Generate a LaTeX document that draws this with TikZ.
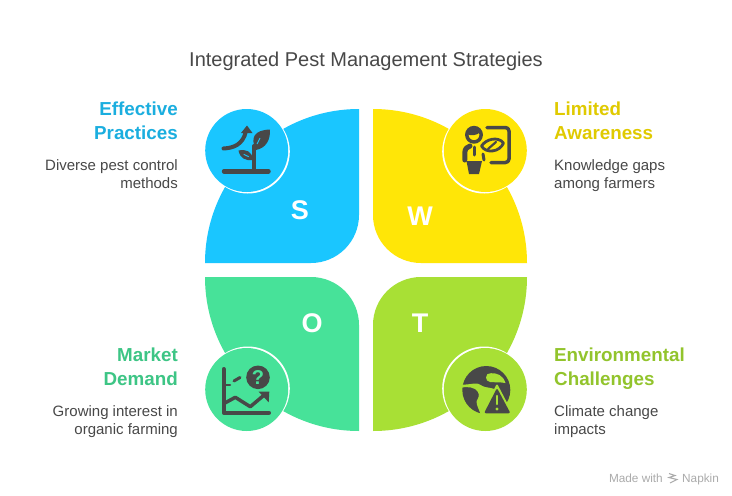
\documentclass[tikz,border=0pt]{standalone}
\usepackage{fontspec}
\setmainfont{Liberation Sans}
\usetikzlibrary{positioning}
\definecolor{inkdark}{HTML}{484848}
\definecolor{leafS}{HTML}{1AC6FF}
\definecolor{leafW}{HTML}{FFE607}
\definecolor{leafO}{HTML}{47E299}
\definecolor{leafT}{HTML}{A8E035}
\definecolor{headS}{HTML}{1BAEDF}
\definecolor{headW}{HTML}{E0CA00}
\definecolor{headO}{HTML}{3DC585}
\definecolor{headT}{HTML}{92C42C}
\definecolor{credit}{HTML}{ABABAB}
\tikzset{
  badge/.style={circle, minimum size=83pt, inner sep=0pt, outer sep=0pt},
  glow/.style={circle, fill=white, minimum size=84pt, inner sep=0pt, outer sep=0pt},
  letter/.style={text=white, font=\fontsize{27}{27}\selectfont\bfseries, inner sep=0pt},
  headL/.style={anchor=north west, align=left, inner sep=0pt, font=\fontsize{18.8}{24}\selectfont\bfseries},
  headR/.style={anchor=north east, align=right, inner sep=0pt, font=\fontsize{18.8}{24}\selectfont\bfseries},
  descL/.style={anchor=north west, align=left, inner sep=0pt, text=inkdark, font=\fontsize{15}{18}\selectfont},
  descR/.style={anchor=north east, align=right, inner sep=0pt, text=inkdark, font=\fontsize{15}{18}\selectfont},
  stroke/.style={draw=inkdark, line width=#1, line cap=round, line join=round}
}
\begin{document}
\begin{tikzpicture}[x=1pt,y=-1pt]
\useasboundingbox (0,0) rectangle (732,496);
\fill[white] (0,0) rectangle (732,496);
% leaves
\fill[leafS] (205,263) .. controls (205,178) and (274,109) .. (359,109) -- (359,215)
     .. controls (359,241.5) and (337.5,263) .. (311,263) -- cycle;
\fill[leafW] (527,263) .. controls (527,178) and (458,109) .. (373,109) -- (373,215)
     .. controls (373,241.5) and (394.5,263) .. (421,263) -- cycle;
\fill[leafO] (205,277) .. controls (205,362) and (274,431) .. (359,431) -- (359,325)
     .. controls (359,298.5) and (337.5,277) .. (311,277) -- cycle;
\fill[leafT] (527,277) .. controls (527,362) and (458,431) .. (373,431) -- (373,325)
     .. controls (373,298.5) and (394.5,277) .. (421,277) -- cycle;
\node[letter] (letterS) at (300,210) {S};
\node[letter] (letterW) at (420,216) {W};
\node[letter] (letterO) at (312,323.5) {O};
\node[letter] (letterT) at (420,323.5) {T};
\node[glow] (glowS) at (247.8,151.5) {};
\node[glow] (glowW) at (484.2,151.5) {};
\node[glow] (glowO) at (247.8,388.5) {};
\node[glow] (glowT) at (484.2,388.5) {};
\node[badge, fill=leafS] (badgeS) at (246.7,150.5) {};
\node[badge, fill=leafW] (badgeW) at (485.3,150.5) {};
\node[badge, fill=leafO] (badgeO) at (246.7,389.5) {};
\node[badge, fill=leafT] (badgeT) at (485.3,389.5) {};
% plant icon
\draw[stroke=4.5pt] (224,171.3) -- (268.5,171.3);
\draw[stroke=4pt] (254.3,170) -- (254.3,146);
\draw[stroke=4pt] (223.5,148.5) .. controls (233,148) and (243,145) .. (246,131);
\fill[inkdark] (247,125.5) -- (252.5,133) -- (241,133) -- cycle;
\fill[inkdark] (256,150) .. controls (250,138) and (254,130) .. (270,129.5)
     .. controls (270.5,140) and (266,148) .. (256,150) -- cycle;
\draw[draw=leafS, line width=.9pt] (257,144) -- (260,138);
\fill[inkdark] (253,160) .. controls (245,161) and (240,158) .. (238.5,150.5)
     .. controls (246,149) and (252,151) .. (253,160) -- cycle;
\draw[draw=leafS, line width=.9pt] (243.7,154.3) -- (248.7,156.7);
% teacher icon
\draw[stroke=3.5pt, rounded corners=3.5pt] (487,127.5) -- (509,127.5) -- (509,162.5) -- (491,162.5);
\draw[stroke=3.5pt, fill=leafW] (474,134.8) circle (7.2);
\fill[inkdark] (467,134) .. controls (470,136) and (477,136) .. (481,131.5)
     .. controls (479,125) and (468,126) .. (467,134) -- cycle;
\draw[stroke=3pt] (474,147) -- (474,155);
\draw[stroke=5pt] (464.8,160) -- (464.8,153) .. controls (464.8,149) and (467,146.5) .. (470,146);
\draw[stroke=3pt] (483,154) -- (484,160);
\fill[inkdark] (466.5,161) -- (482,161) -- (479,174) -- (469,174) -- cycle;
\draw[stroke=2.8pt] (481.5,146) .. controls (486,139) and (498,136) .. (503.5,143)
     .. controls (500,152) and (486,154) .. (481.5,146) -- cycle;
\draw[stroke=2.2pt] (488,149) -- (496,142);
% chart icon
\draw[stroke=4pt] (223.7,369) -- (223.7,412.7) -- (269,412.7);
\draw[stroke=2.5pt] (224,385) -- (230,385);
\draw[stroke=3pt] (234,381) -- (240,377.5);
\fill[inkdark] (258,377.3) circle (11.8);
\node[text=leafO, inner sep=0pt, font=\fontsize{20}{20}\selectfont\bfseries] (askMark) at (258,377.3) {?};
\draw[stroke=3.5pt] (224,403.5) -- (235.3,397.3) -- (250.3,406.7) -- (263,396);
\fill[inkdark] (258.7,391.7) -- (269.3,391.7) -- (268.7,402.3) -- cycle;
% globe icon
\fill[inkdark] (486.3,390) circle (24);
\fill[leafT] (486,377.5) .. controls (486,374.5) and (488,373) .. (491,373.2)
     .. controls (497,373) and (503,375) .. (505.5,383)
     .. controls (500,382) and (495,382.5) .. (490,382) .. controls (487.5,381.5) and (486,380) .. (486,377.5) -- cycle;
\fill[leafT] (461,384.5) .. controls (467,385) and (472,383.5) .. (476,383.5)
     .. controls (480,383.5) and (481,386) .. (485,387) .. controls (490,388) and (495,388) .. (499,392)
     -- (499,416) -- (481,416) .. controls (480,411) and (476.5,406) .. (476.5,401.5)
     .. controls (478,398) and (480,396) .. (478,392) .. controls (475,387) and (468,386.5) .. (461,387.5) -- cycle;
\fill[leafT, rounded corners=2pt] (497,383.5) -- (514,416) -- (480,416) -- cycle;
\fill[inkdark, rounded corners=2pt] (497,388) -- (510.5,413.3) -- (484,413.3) -- cycle;
\draw[draw=leafT, line width=2.5pt, line cap=round] (497,396) -- (497,404);
\fill[leafT] (497,409) circle (1.6);
% labels
\node[text=inkdark, inner sep=0pt, font=\fontsize{20}{24}\selectfont] (chartTitle) at (366,61) {Integrated Pest Management Strategies};
\node[headR, text=headS] (headS) at (178,102) {Effective\\Practices};
\node[descR] (descS) at (178,159.5) {Diverse pest control\\methods};
\node[headL, text=headW] (headW) at (554,102) {Limited\\Awareness};
\node[descL] (descW) at (554,159.5) {Knowledge gaps\\among farmers};
\node[headR, text=headO] (headO) at (178,348) {Market\\Demand};
\node[descR] (descO) at (178,405.5) {Growing interest in\\organic farming};
\node[headL, text=headT] (headT) at (554,348) {Environmental\\Challenges};
\node[descL] (descT) at (554,405.5) {Climate change\\impacts};
% credit
\node[text=credit, inner sep=0pt, anchor=base east, font=\fontsize{11.8}{12}\selectfont] (madeWith) at (663,482) {Made with};
\node[text=credit, inner sep=0pt, anchor=base west, font=\fontsize{11.8}{12}\selectfont] (napkinMark) at (682,482) {Napkin};
\draw[draw=credit, line width=1.1pt] (669,473.5) -- (675,475.5) -- (669,477.5) -- (677,479.5) -- (670,483);
\end{tikzpicture}
\end{document}
